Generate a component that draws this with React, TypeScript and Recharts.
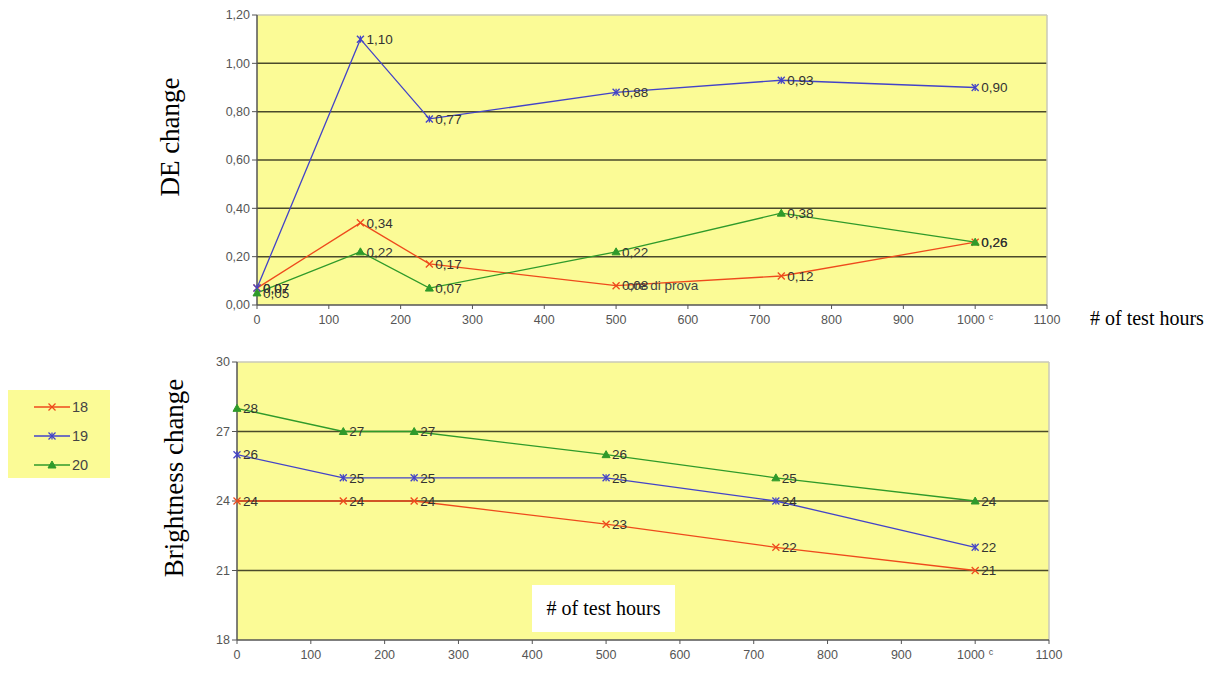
import React from "react";
import {
  LineChart,
  Line,
  XAxis,
  YAxis,
  CartesianGrid,
  LabelList,
  ReferenceLine,
} from "recharts";

// test hours (x values shared by both panels)
const hours = [0, 144, 240, 500, 730, 1000];

// DE change
const de18 = [0.07, 0.34, 0.17, 0.08, 0.12, 0.26];
const de19 = [0.07, 1.1, 0.77, 0.88, 0.93, 0.9];
const de20 = [0.05, 0.22, 0.07, 0.22, 0.38, 0.26];

// Brightness change
const br18 = [24, 24, 24, 23, 22, 21];
const br19 = [26, 25, 25, 25, 24, 22];
const br20 = [28, 27, 27, 26, 25, 24];

const xTicks = [0, 100, 200, 300, 400, 500, 600, 700, 800, 900, 1000, 1100];
const deTicks = [0, 0.2, 0.4, 0.6, 0.8, 1.0, 1.2];
const brTicks = [18, 21, 24, 27, 30];

const seriesNames = ["18", "19", "20"];
const RED = "#EE4A1C";
const BLUE = "#4343C8";
const GREEN = "#2F9A2A";
const colors = [RED, BLUE, GREEN];

const PLOT_BG = "#FBFB96";
const GRID = "#4A4A2A";
const BORDER = "#C8C8B8";
const AXIS = "#555";
const SANS = "'Liberation Sans', Arial, sans-serif";
const SERIF = "'Liberation Serif', 'Times New Roman', serif";

const deRows = hours.map((h, i) => ({ h, s18: de18[i], s19: de19[i], s20: de20[i] }));
const brRows = hours.map((h, i) => ({ h, s18: br18[i], s19: br19[i], s20: br20[i] }));

const comma = (v: any) => Number(v).toFixed(2).replace(".", ",");

function Marker({ kind, cx, cy, color }: { kind: number; cx: number; cy: number; color: string }) {
  const r = 3.5;
  if (kind === 2) {
    return <path d={`M${cx},${cy - 4} L${cx + 4},${cy + 3} L${cx - 4},${cy + 3} Z`} fill={color} stroke={color} />;
  }
  return (
    <g stroke={color} strokeWidth={1.3}>
      <line x1={cx - r} y1={cy - r} x2={cx + r} y2={cy + r} />
      <line x1={cx - r} y1={cy + r} x2={cx + r} y2={cy - r} />
      {kind === 1 && <line x1={cx} y1={cy - r} x2={cx} y2={cy + r} />}
    </g>
  );
}

const dotFor = (kind: number) => (p: any) =>
  p.cx == null ? <g key={p.index} /> : <Marker key={p.index} kind={kind} cx={p.cx} cy={p.cy} color={colors[kind]} />;

function XTick(props: any) {
  const { x, y, payload } = props;
  return (
    <text x={x} y={y + 13} textAnchor="middle" fontSize={12.5} fill={AXIS} fontFamily={SANS}>
      {payload.value}
      {payload.value === 1000 && (
        <tspan dx={4} dy={-4} fontSize={9}>
          c
        </tspan>
      )}
    </text>
  );
}

function Panel({
  rows,
  ticks,
  fmtTick,
  fmtLabel,
  width,
  height,
  margin,
  yWidth,
}: {
  rows: any[];
  ticks: number[];
  fmtTick: (v: any) => string;
  fmtLabel: (v: any) => string;
  width: number;
  height: number;
  margin: any;
  yWidth: number;
}) {
  const keys = ["s18", "s19", "s20"];
  return (
    <LineChart width={width} height={height} data={rows} margin={margin}>
      <CartesianGrid fill={PLOT_BG} horizontal={false} vertical={false} />
      {ticks.slice(1, -1).map((t) => (
        <ReferenceLine key={t} y={t} stroke={GRID} strokeWidth={1.5} />
      ))}
      <ReferenceLine y={ticks[ticks.length - 1]} stroke={BORDER} strokeWidth={1.5} />
      <ReferenceLine x={xTicks[xTicks.length - 1]} stroke={BORDER} strokeWidth={1.5} />
      <XAxis
        dataKey="h"
        type="number"
        domain={[0, 1100]}
        ticks={xTicks}
        interval={0}
        height={25}
        axisLine={{ stroke: AXIS, strokeWidth: 1.5 }}
        tickLine={{ stroke: AXIS }}
        tickSize={4}
        tick={<XTick />}
      />
      <YAxis
        type="number"
        domain={[ticks[0], ticks[ticks.length - 1]]}
        ticks={ticks}
        interval={0}
        width={yWidth}
        tickFormatter={fmtTick}
        axisLine={{ stroke: AXIS, strokeWidth: 1.5 }}
        tickLine={{ stroke: AXIS }}
        tickSize={5}
        tick={{ fontSize: 12.5, fill: AXIS, fontFamily: SANS }}
      />
      {keys.map((k, i) => (
        <Line
          key={k}
          dataKey={k}
          type="linear"
          stroke={colors[i]}
          strokeWidth={1.3}
          dot={dotFor(i)}
          isAnimationActive={false}
        >
          <LabelList
            dataKey={k}
            position="right"
            offset={6}
            formatter={fmtLabel}
            fill="#333"
            fontSize={13.5}
            fontFamily={SANS}
          />
        </Line>
      ))}
    </LineChart>
  );
}

export default function App() {
  return (
    <div style={{ position: "absolute", left: 0, top: 0, width: 1231, height: 675, background: "#fff" }}>
      <div style={{ position: "absolute", left: 0, top: 0 }}>
        <Panel
          rows={deRows}
          ticks={deTicks}
          fmtTick={comma}
          fmtLabel={comma}
          width={1231}
          height={340}
          margin={{ top: 15, right: 184, bottom: 10, left: 207 }}
          yWidth={50}
        />
      </div>
      <div style={{ position: "absolute", left: 0, top: 340 }}>
        <Panel
          rows={brRows}
          ticks={brTicks}
          fmtTick={(v) => String(v)}
          fmtLabel={(v) => String(v)}
          width={1231}
          height={335}
          margin={{ top: 22, right: 182, bottom: 10, left: 197 }}
          yWidth={40}
        />
      </div>

      {/* leftover label overprinted on the 0,08 label in the upper panel */}
      <div
        style={{
          position: "absolute",
          left: 627,
          top: 278,
          fontFamily: SANS,
          fontSize: 13.5,
          color: "#444",
          whiteSpace: "nowrap",
        }}
      >
        ore di prova
      </div>

      {/* axis titles */}
      <div
        style={{
          position: "absolute",
          left: 170,
          top: 137,
          transform: "translate(-50%, -50%) rotate(-90deg)",
          fontFamily: SERIF,
          fontSize: 27,
          whiteSpace: "nowrap",
        }}
      >
        DE change
      </div>
      <div
        style={{
          position: "absolute",
          left: 174,
          top: 478,
          transform: "translate(-50%, -50%) rotate(-90deg)",
          fontFamily: SERIF,
          fontSize: 27,
          whiteSpace: "nowrap",
        }}
      >
        Brightness change
      </div>
      <div
        style={{
          position: "absolute",
          left: 1090,
          top: 307,
          fontFamily: SERIF,
          fontSize: 20,
          whiteSpace: "nowrap",
        }}
      >
        # of test hours
      </div>
      <div
        style={{
          position: "absolute",
          left: 532,
          top: 585,
          width: 143,
          height: 47,
          background: "#fff",
          fontFamily: SERIF,
          fontSize: 20,
          display: "flex",
          alignItems: "center",
          justifyContent: "center",
          whiteSpace: "nowrap",
        }}
      >
        # of test hours
      </div>

      {/* legend */}
      <div
        style={{
          position: "absolute",
          left: 8,
          top: 390,
          width: 102,
          height: 88,
          background: PLOT_BG,
        }}
      >
        {seriesNames.map((n, i) => (
          <div key={n} style={{ position: "absolute", left: 26, top: 7 + i * 29, height: 20, display: "flex", alignItems: "center" }}>
            <svg width={36} height={20}>
              <line x1={0} y1={10} x2={36} y2={10} stroke={colors[i]} strokeWidth={1.3} />
              <Marker kind={i} cx={18} cy={10} color={colors[i]} />
            </svg>
            <span style={{ fontFamily: SANS, fontSize: 14.5, color: "#444", marginLeft: 2 }}>{n}</span>
          </div>
        ))}
      </div>
    </div>
  );
}
